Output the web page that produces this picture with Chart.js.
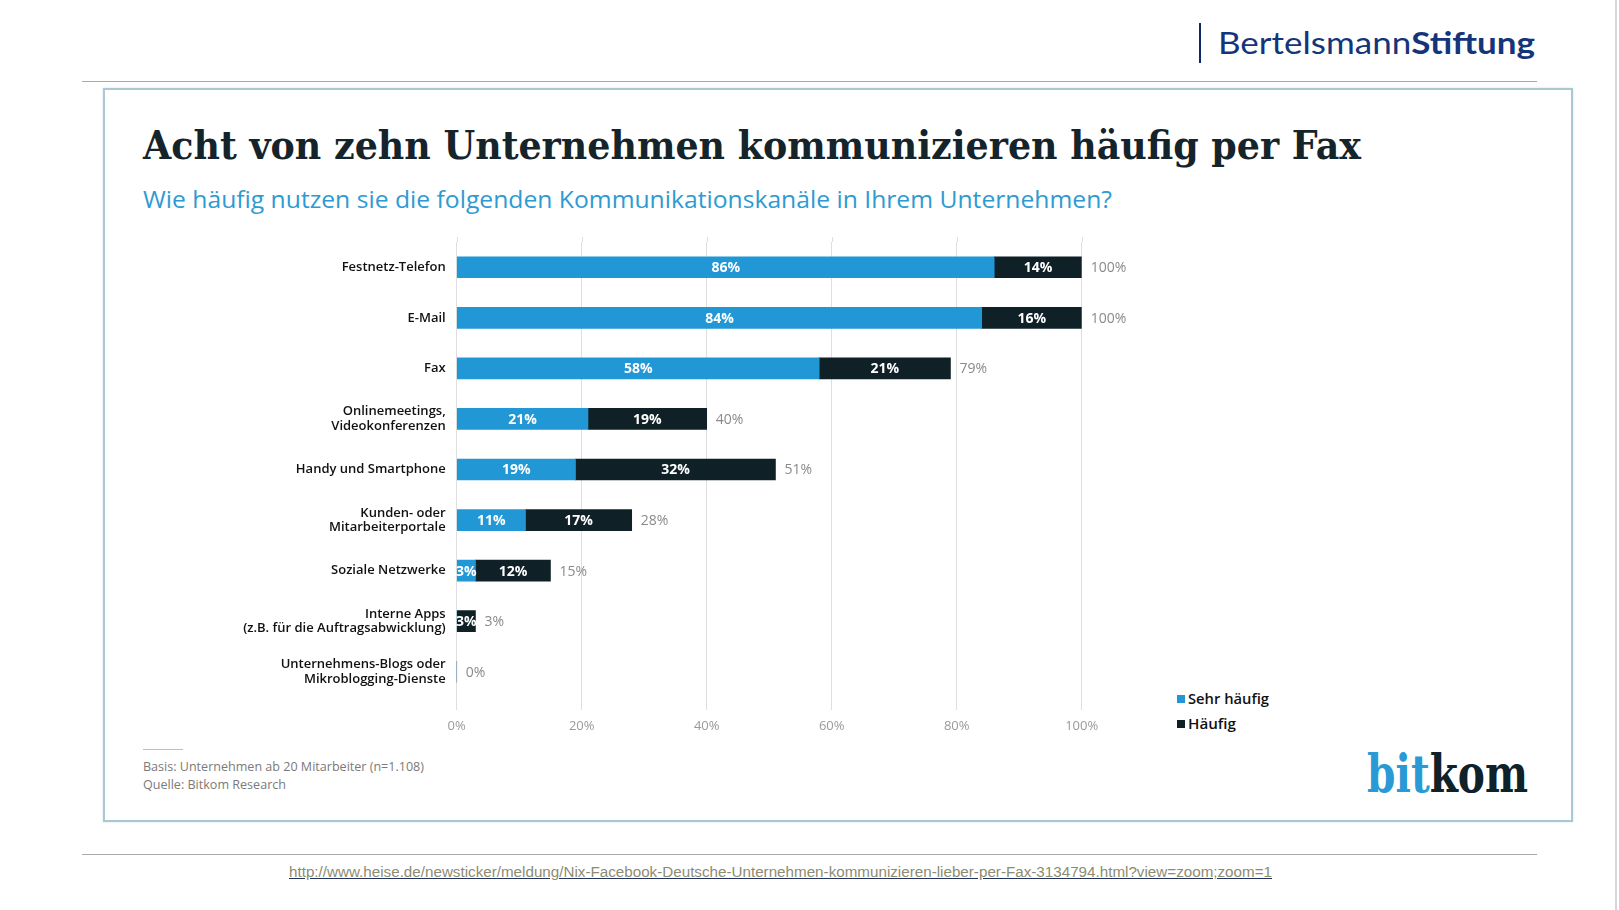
<!DOCTYPE html>
<html lang="de">
<head>
<meta charset="utf-8">
<title>Acht von zehn Unternehmen kommunizieren häufig per Fax</title>
<script src="https://cdn.jsdelivr.net/npm/chart.js@4.4.1/dist/chart.umd.min.js"></script>
<style>
  html, body { margin:0; padding:0; background:#ffffff; }
  body { width:1619px; height:910px; position:relative; overflow:hidden; }
  .abs { position:absolute; white-space:nowrap; line-height:1; }
  .fit { display:inline-block; transform-origin:0 50%; }
  #brandbar { position:absolute; left:1199px; top:23px; width:2px; height:40px; background:#0d2a66; }
  #brand { left:1218px; top:27px; font-family:Lato, sans-serif; font-size:30px; color:#14357a; }
  #brand b { font-weight:700; }
  .hline { position:absolute; left:82px; width:1455px; height:1px; background:#a8a8a8; }
  #box { position:absolute; left:103px; top:88px; width:1466px; height:730px; border:2px solid #a9c8d3; box-shadow:0 0 2px rgba(120,160,175,0.35); }
  #rightline { position:absolute; left:1615px; top:0; width:2px; height:910px; background:#d6d6d6; }
  #title { left:143px; top:126px; font-family:"DejaVu Serif", serif; font-weight:700; font-size:39px; color:#15242b; }
  #subtitle { left:143px; top:187px; font-family:"Open Sans", sans-serif; font-size:24px; color:#2d9bd2; }
  #chartwrap { position:absolute; left:200px; top:230px; width:960px; height:510px; }
  .leg { font-family:"Open Sans", sans-serif; font-weight:600; font-size:15px; color:#111; }
  .sq { position:absolute; width:8px; height:8px; }
  #footline { position:absolute; left:143px; top:749px; width:40px; height:1px; background:#bdbdbd; }
  .foot { font-family:"Open Sans", sans-serif; font-size:12.5px; color:#7a7a7a; }
  #bitkom { left:1367px; top:748px; font-family:"DejaVu Serif", serif; font-weight:700; font-size:52px; }
  #url { left:289px; top:865px; font-family:"Liberation Sans", Arial, sans-serif; font-size:14px; color:#8c8c72; }
  #url .fit { text-decoration:underline; text-decoration-color:#24325e; }
</style>
</head>
<body>
<div id="rightline"></div>
<div id="brandbar"></div>
<div class="abs" id="brand"><span class="fit" data-w="317">Bertelsmann<b>Stiftung</b></span></div>
<div class="hline" style="top:81px"></div>
<div id="box"></div>
<div class="abs" id="title"><span class="fit" data-w="1218">Acht von zehn Unternehmen kommunizieren häufig per Fax</span></div>
<div class="abs" id="subtitle"><span class="fit" data-w="969">Wie häufig nutzen sie die folgenden Kommunikationskanäle in Ihrem Unternehmen?</span></div>
<div id="chartwrap"><canvas id="chart"></canvas></div>
<div class="sq" style="left:1177px;top:695px;background:#2297d5"></div>
<div class="abs leg" style="left:1188px;top:691px"><span class="fit" data-w="81">Sehr häufig</span></div>
<div class="sq" style="left:1177px;top:720px;background:#0f2027"></div>
<div class="abs leg" style="left:1188px;top:716px"><span class="fit" data-w="48">Häufig</span></div>
<div id="footline"></div>
<div class="abs foot" style="left:143px;top:761px"><span class="fit" data-w="281">Basis: Unternehmen ab 20 Mitarbeiter (n=1.108)</span></div>
<div class="abs foot" style="left:143px;top:779px"><span class="fit" data-w="143">Quelle: Bitkom Research</span></div>
<div class="abs" id="bitkom"><span class="fit" data-w="161"><span style="color:#2a9ad6">bit</span><span style="color:#0f2129">kom</span></span></div>
<div class="hline" style="top:854px"></div>
<div class="abs" id="url"><span class="fit" data-w="983">http://www.heise.de/newsticker/meldung/Nix-Facebook-Deutsche-Unternehmen-kommunizieren-lieber-per-Fax-3134794.html?view=zoom;zoom=1</span></div>

<script>
// ---- data ----
const categories = [
  ["Festnetz-Telefon"],
  ["E-Mail"],
  ["Fax"],
  ["Onlinemeetings,", "Videokonferenzen"],
  ["Handy und Smartphone"],
  ["Kunden- oder", "Mitarbeiterportale"],
  ["Soziale Netzwerke"],
  ["Interne Apps", "(z.B. für die Auftragsabwicklung)"],
  ["Unternehmens-Blogs oder", "Mikroblogging-Dienste"]
];
const sehrHaeufig = [86, 84, 58, 21, 19, 11, 3, 0, 0];
const haeufig     = [14, 16, 21, 19, 32, 17, 12, 3, 0];
const totals      = [100, 100, 79, 40, 51, 28, 15, 3, 0];
const seriesNames = ["Sehr häufig", "Häufig"];
const xTicks      = [0, 20, 40, 60, 80, 100];

function fitAll() {
  document.querySelectorAll('.fit').forEach(el => {
    el.style.transform = 'none';
    const w = el.getBoundingClientRect().width;
    const t = parseFloat(el.dataset.w);
    if (w > 0) el.style.transform = 'scaleX(' + (t / w) + ')';
  });
}

// extend vertical grid lines slightly above the plot area
const gridExtend = {
  id: 'gridExtend',
  beforeDatasetsDraw(chart) {
    const ctx = chart.ctx, xs = chart.scales.x, top = chart.chartArea.top;
    ctx.save();
    ctx.strokeStyle = '#dedede';
    ctx.lineWidth = 1;
    xTicks.forEach(v => {
      const x = Math.round(xs.getPixelForValue(v)) + 0.5;
      ctx.beginPath();
      ctx.moveTo(x, top - 5);
      ctx.lineTo(x, top);
      ctx.stroke();
    });
    ctx.restore();
  }
};

const labelPlugin = {
  id: 'barLabels',
  afterDatasetsDraw(chart) {
    const ctx = chart.ctx;
    const xs = chart.scales.x;
    ctx.save();
    ctx.textBaseline = 'middle';
    chart.data.datasets.forEach((ds, di) => {
      const meta = chart.getDatasetMeta(di);
      meta.data.forEach((bar, i) => {
        const v = ds.data[i];
        if (!v) return;
        const p = bar.getProps(['x', 'y', 'base'], true);
        ctx.font = '700 14px "Open Sans", sans-serif';
        ctx.fillStyle = '#ffffff';
        ctx.textAlign = 'center';
        ctx.fillText(v + '%', (p.x + p.base) / 2, p.y + 1);
      });
    });
    const meta0 = chart.getDatasetMeta(0);
    meta0.data.forEach((bar, i) => {
      const x = xs.getPixelForValue(totals[i]) + 9;
      ctx.font = '400 14px "Open Sans", sans-serif';
      ctx.fillStyle = '#8a8a8a';
      ctx.textAlign = 'left';
      ctx.fillText(totals[i] + '%', x, bar.y + 1);
    });
    ctx.restore();
  }
};

function build() {
  fitAll();
  new Chart(document.getElementById('chart'), {
    type: 'bar',
    data: {
      labels: categories,
      datasets: [
        { label: seriesNames[0], data: sehrHaeufig, backgroundColor: '#2297d5', barThickness: 21, borderWidth: 0 },
        { label: seriesNames[1], data: haeufig, backgroundColor: '#0f2027', barThickness: 21, borderWidth: 0 }
      ]
    },
    options: {
      indexAxis: 'y',
      responsive: true,
      maintainAspectRatio: false,
      animation: false,
      layout: { padding: { top: 12, right: 78.3, bottom: 0, left: 0 } },
      plugins: { legend: { display: false }, tooltip: { enabled: false } },
      scales: {
        x: {
          stacked: true,
          min: 0, max: 100,
          afterBuildTicks: (s) => { s.ticks = xTicks.map(v => ({ value: v })); },
          afterFit: (s) => { s.height = 43; s.paddingLeft = 0; s.paddingRight = 0; },
          grid: { color: '#dedede', lineWidth: 1, tickLength: 13, drawTicks: true, tickColor: '#dedede' },
          border: { display: false },
          ticks: {
            padding: 8,
            color: '#9a9a9a',
            font: { family: '"Open Sans", sans-serif', size: 13 },
            callback: (v) => v + '%'
          }
        },
        y: {
          stacked: true,
          afterFit: (s) => { s.width = 256.7; s.paddingTop = 0; s.paddingBottom = 0; },
          grid: { display: false, drawTicks: false },
          border: { display: false },
          ticks: {
            padding: 11,
            color: '#111111',
            font: { family: '"Open Sans", sans-serif', size: 13, weight: '600', lineHeight: 1.1 },
            autoSkip: false
          }
        }
      }
    },
    plugins: [gridExtend, labelPlugin]
  });
}

if (document.fonts && document.fonts.ready) {
  document.fonts.ready.then(build);
} else {
  build();
}
</script>
</body>
</html>
